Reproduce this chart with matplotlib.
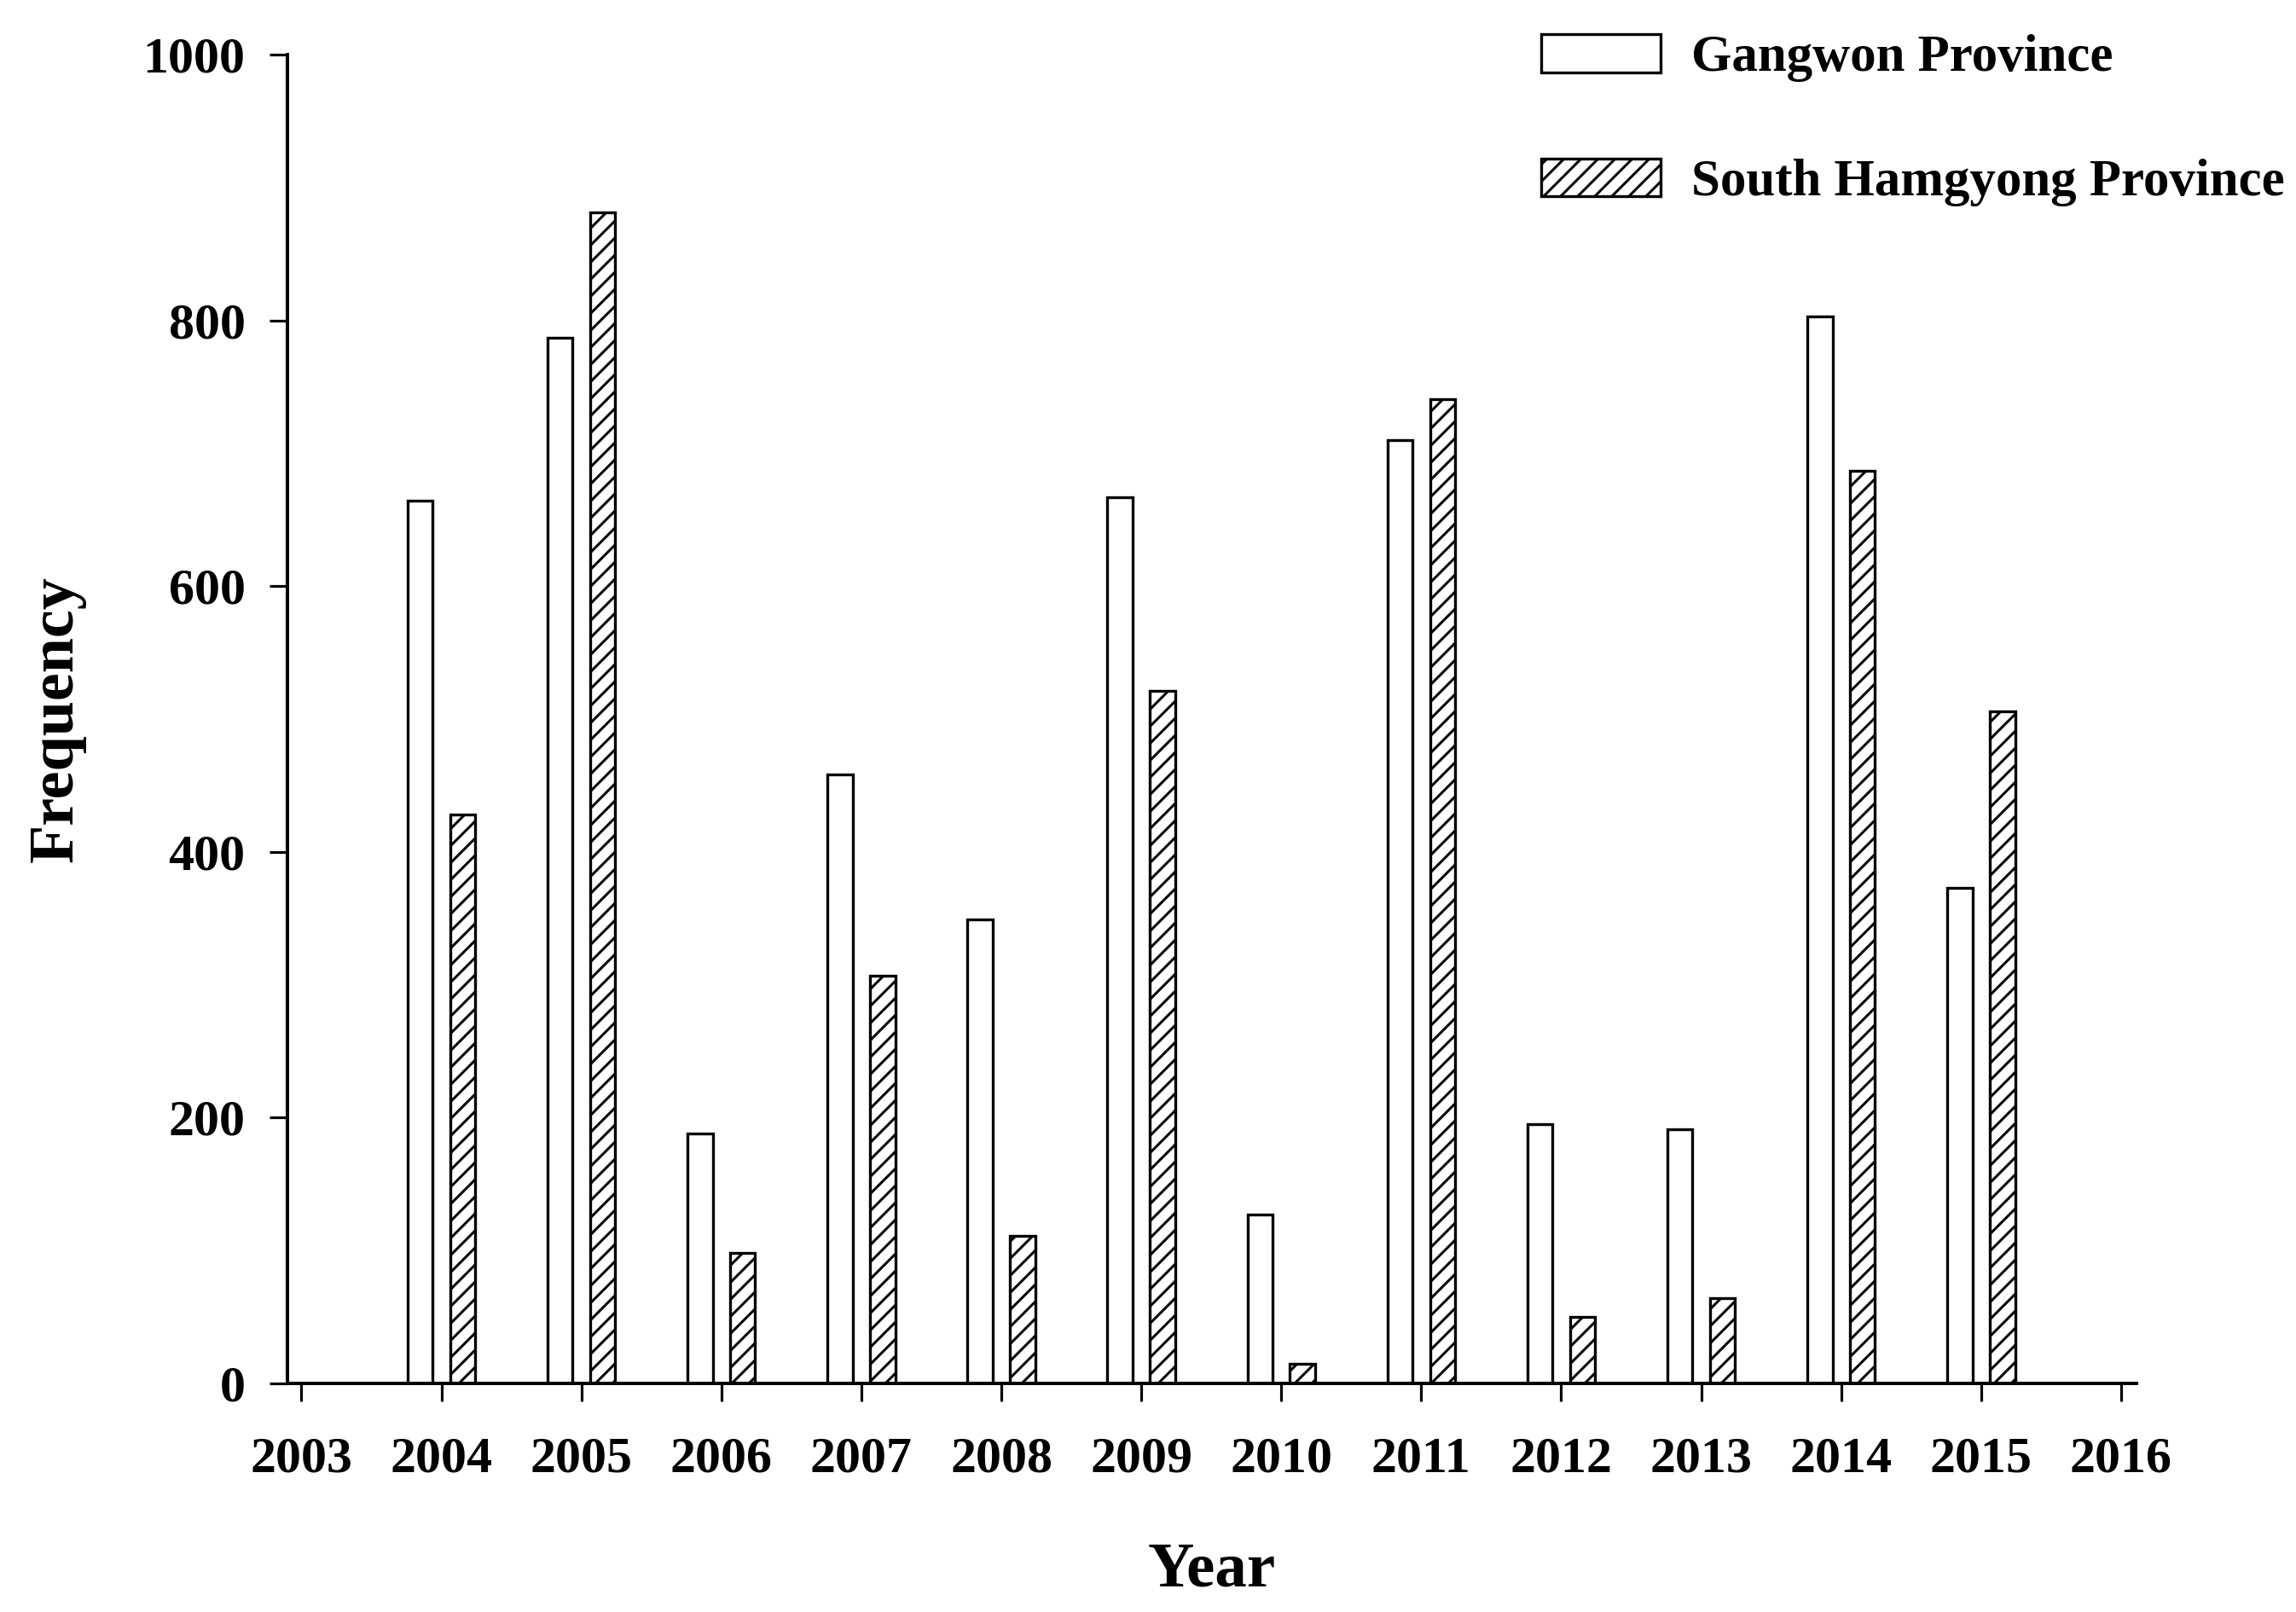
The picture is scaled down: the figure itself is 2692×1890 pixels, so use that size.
import matplotlib
matplotlib.use("Agg")
import matplotlib.pyplot as plt
import numpy as np

years = [2004, 2005, 2006, 2007, 2008, 2009, 2010, 2011, 2012, 2013, 2014, 2015]
gangwon = [664, 787, 188, 458, 349, 667, 127, 710, 195, 191, 803, 373]
south_hamgyong = [428, 881, 98, 307, 111, 521, 15, 741, 50, 64, 687, 506]
xticks = list(range(2003, 2017))
yticks = [0, 200, 400, 600, 800, 1000]
labels = ["Gangwon Province", "South Hamgyong Province"]

plt.rcParams['font.family'] = ['Liberation Serif', 'DejaVu Serif']
plt.rcParams['font.weight'] = 'bold'
plt.rcParams['hatch.linewidth'] = 1.8
plt.rcParams['hatch.color'] = 'black'

DPI = 120
fig = plt.figure(figsize=(2692 / DPI, 1890 / DPI), dpi=DPI)
ax = fig.add_axes([337 / 2692, 1 - 1622 / 1890, (2505 - 337) / 2692, (1622 - 64) / 1890])

x = np.array(years, dtype=float)
w = 0.18
off = 0.152
ax.bar(x - off, gangwon, width=w, color='white', edgecolor='black', linewidth=2.0,
       label=labels[0], zorder=2)
ax.bar(x + off, south_hamgyong, width=w, color='white', edgecolor='black', linewidth=2.0,
       hatch='//', label=labels[1], zorder=2)

ax.set_xlim(2002.9, 2016.11)
ax.set_ylim(0, 1000)
ax.set_xticks(xticks)
ax.set_xticklabels([str(t) for t in xticks])
ax.set_yticks(yticks)
ax.set_yticklabels([str(t) for t in yticks])

for s in ['top', 'right']:
    ax.spines[s].set_visible(False)
for s in ['left', 'bottom']:
    ax.spines[s].set_linewidth(2.4)
    ax.spines[s].set_zorder(3)

ax.tick_params(axis='both', direction='out', length=12.6, width=1.9, labelsize=36)
ax.tick_params(axis='x', pad=25)
ax.tick_params(axis='y', pad=17)
for lab in ax.get_xticklabels() + ax.get_yticklabels():
    lab.set_fontweight('bold')

ax.set_xlabel('Year', fontsize=45, fontweight='bold')
ax.set_ylabel('Frequency', fontsize=44.5, fontweight='bold')
ax.xaxis.set_label_coords(0.5, -0.119)
ax.yaxis.set_label_coords(-0.109, 0.5)

leg = fig.legend(loc='upper left', bbox_to_anchor=(1807 / 2692, 1 - 40 / 1890),
                 frameon=False, handlelength=2.3, handleheight=0.75,
                 handletextpad=0.6, labelspacing=1.47, borderpad=0, borderaxespad=0,
                 prop={'weight': 'bold', 'size': 36.5})

fig.savefig('out.png', dpi=DPI, facecolor='white')
